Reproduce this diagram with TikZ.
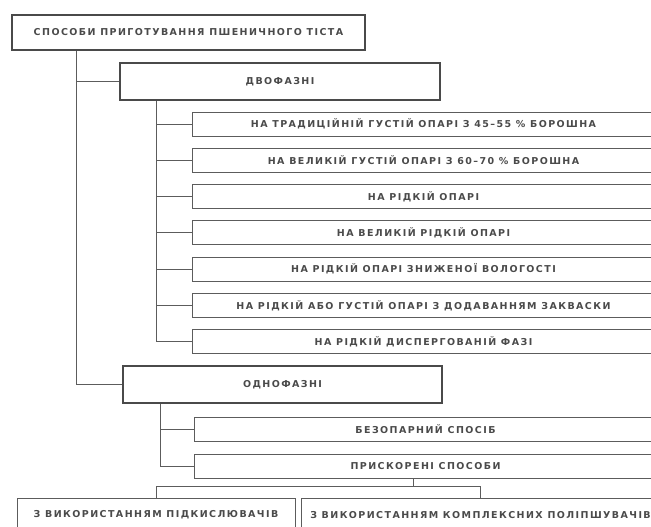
\documentclass[tikz,border=0pt]{standalone}
\usepackage{fontspec}
\newfontfamily\labelfont{DejaVu Sans}[LetterSpace=15]
\usepackage{tikz}

\definecolor{inkgray}{HTML}{4A4A4A}
\definecolor{linegray}{HTML}{5C5C5C}

\tikzset{
  box/.style={draw=linegray, line width=0.9pt, text=inkgray, inner sep=0pt,
    font=\labelfont\bfseries\fontsize{9.5}{11}\selectfont, align=center},
  topbox/.style={box, line width=1.8pt, draw=inkgray},
  groupbox/.style={box, line width=1.3pt, draw=inkgray},
  itembox/.style={box, minimum width=463pt, minimum height=24pt},
  link/.style={draw=linegray, line width=0.9pt}
}

\begin{document}
\begin{tikzpicture}[x=1pt,y=-1pt]
  \useasboundingbox (0,0) rectangle (651,527);
  \clip (0,0) rectangle (651,527);

  % top level
  \node[topbox, minimum width=353pt, minimum height=35pt] (top) at (188.5,32.5)
    {СПОСОБИ ПРИГОТУВАННЯ ПШЕНИЧНОГО ТІСТА};
  \node[groupbox, minimum width=320pt, minimum height=37pt] (two) at (280,81.5) {ДВОФАЗНІ};
  \node[groupbox, minimum width=319pt, minimum height=37pt] (one) at (282.5,384.5) {ОДНОФАЗНІ};
  \draw[link] ([xshift=65pt]top.south west) |- (one.west);
  \draw[link] ([xshift=65pt]top.south west) |- (two.west);

  % two-phase methods
  \foreach \t [count=\i] in {%
      НА ТРАДИЦІЙНІЙ ГУСТІЙ ОПАРІ З 45–55 \% БОРОШНА,
      НА ВЕЛИКІЙ ГУСТІЙ ОПАРІ З 60–70 \% БОРОШНА,
      НА РІДКІЙ ОПАРІ,
      НА ВЕЛИКІЙ РІДКІЙ ОПАРІ,
      НА РІДКІЙ ОПАРІ ЗНИЖЕНОЇ ВОЛОГОСТІ,
      НА РІДКІЙ АБО ГУСТІЙ ОПАРІ З ДОДАВАННЯМ ЗАКВАСКИ,
      НА РІДКІЙ ДИСПЕРГОВАНІЙ ФАЗІ} {
    \node[itembox] (a\i) at (423.5,{124+36.3*(\i-1)}) {\t};
    \draw[link] ([xshift=37pt]two.south west) |- (a\i.west);
  }

  % one-phase methods
  \node[itembox] (b1) at (425.5,429) {БЕЗОПАРНИЙ СПОСІБ};
  \node[itembox] (b2) at (425.5,466) {ПРИСКОРЕНІ СПОСОБИ};
  \draw[link] ([xshift=38pt]one.south west) |- (b1.west);
  \draw[link] ([xshift=38pt]one.south west) |- (b2.west);

  % accelerated methods
  \node[box, minimum width=278pt, minimum height=34pt] (c1) at (156,515)
    {З ВИКОРИСТАННЯМ ПІДКИСЛЮВАЧІВ};
  \node[box, minimum width=359pt, minimum height=34pt] (c2) at (480.5,515)
    {З ВИКОРИСТАННЯМ КОМПЛЕКСНИХ ПОЛІПШУВАЧІВ};
  \draw[link] ([xshift=-12pt]b2.south) -- ++(0,8) coordinate (fork);
  \draw[link] (fork) -| (c1.north);
  \draw[link] (fork) -| (c2.north);
\end{tikzpicture}
\end{document}
